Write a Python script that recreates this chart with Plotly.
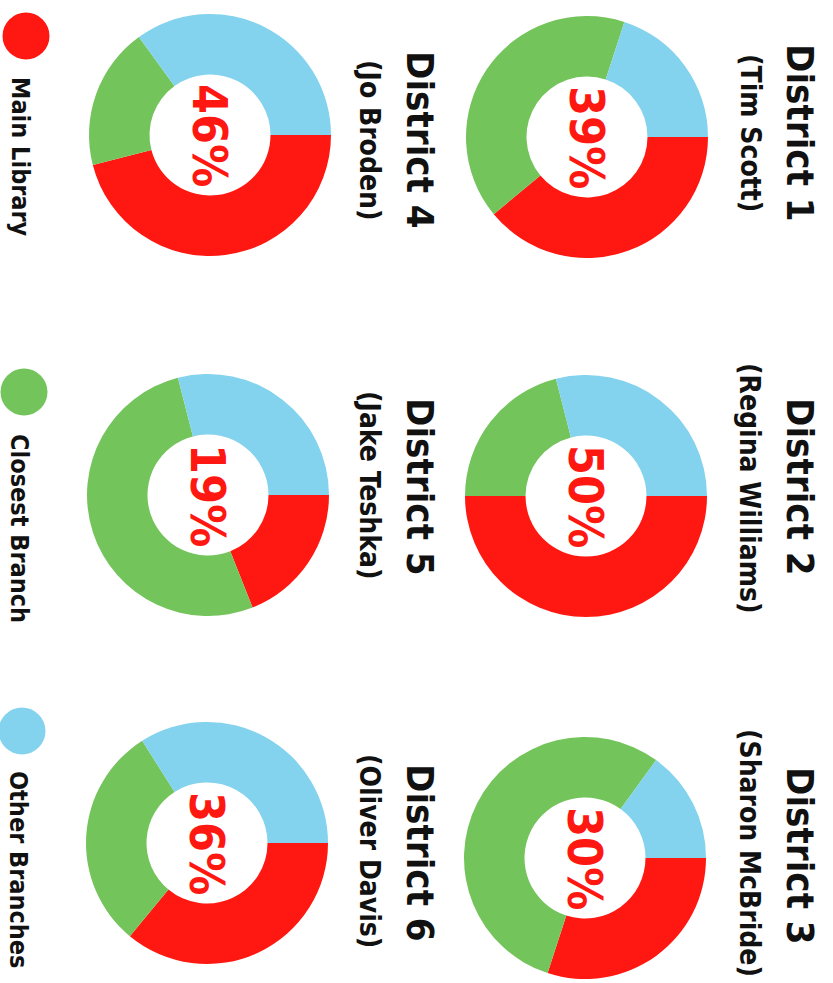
import plotly.graph_objects as go

# ---------------- data ----------------
districts = ["District 1", "District 2", "District 3", "District 4", "District 5", "District 6"]
representatives = ["(Tim Scott)", "(Regina Williams)", "(Sharon McBride)",
                   "(Jo Broden)", "(Jake Teshka)", "(Oliver Davis)"]
categories = ["Main Library", "Closest Branch", "Other Branches"]
main_library = [39, 50, 30, 46, 19, 36]
closest_branch = [41, 21, 55, 19, 52, 30]
other_branches = [20, 29, 15, 35, 29, 34]

# ---------------- styles / layout ----------------
colors = ["#FE1811", "#74C45C", "#83D2EE"]
W, H = 833, 983
FONT = "DejaVu Sans Condensed, DejaVu Sans, sans-serif"

# donut centres (pixels on the rotated page) and radius
centers = [(587, 137), (586, 496), (585, 858), (210, 135), (208, 495), (207, 843)]
R = 121
title_pos = [(800, 133), (800, 487), (800, 856), (420, 140), (420, 487), (420, 853)]
sub_pos = [(750, 133), (750, 488), (750, 853), (370, 140), (370, 485), (370, 851)]
legend_dot = [(26, 36), (24, 392), (22, 731)]
legend_txt = [(20, 157), (20, 528), (19, 870)]


def px(x):
    return x / W


def py(y):
    return 1 - y / H


fig = go.Figure()

annotations = []
for i, name in enumerate(districts):
    cx, cy = centers[i]
    vals = [main_library[i], closest_branch[i], other_branches[i]]
    fig.add_trace(go.Pie(
        labels=categories,
        values=vals,
        sort=False,
        direction="clockwise",
        rotation=90,
        hole=0.5,
        textinfo="none",
        marker=dict(colors=colors, line=dict(width=0)),
        domain=dict(x=[px(cx - R), px(cx + R)], y=[py(cy + R), py(cy - R)]),
        showlegend=False,
        name=name,
    ))
    annotations.append(dict(
        text=f"{main_library[i]}%", x=px(cx), y=py(cy), xref="paper", yref="paper",
        textangle=90, showarrow=False, xanchor="center", yanchor="middle",
        font=dict(family=FONT, size=48, color=colors[0], weight=700),
    ))
    tx, ty = title_pos[i]
    annotations.append(dict(
        text=name, x=px(tx), y=py(ty), xref="paper", yref="paper",
        textangle=90, showarrow=False, xanchor="center", yanchor="middle",
        font=dict(family=FONT, size=38, color="#111111", weight=700),
    ))
    sx, sy = sub_pos[i]
    annotations.append(dict(
        text=representatives[i], x=px(sx), y=py(sy), xref="paper", yref="paper",
        textangle=90, showarrow=False, xanchor="center", yanchor="middle",
        font=dict(family=FONT, size=28, color="#111111", weight=700),
    ))

# legend
fig.add_trace(go.Scatter(
    x=[p[0] for p in legend_dot], y=[p[1] for p in legend_dot],
    mode="markers", marker=dict(size=47, color=colors, line=dict(width=0)),
    xaxis="x", yaxis="y", showlegend=False, hoverinfo="skip",
))
for j, cat in enumerate(categories):
    lx, ly = legend_txt[j]
    annotations.append(dict(
        text=cat, x=px(lx), y=py(ly), xref="paper", yref="paper",
        textangle=90, showarrow=False, xanchor="center", yanchor="middle",
        font=dict(family=FONT, size=25, color="#111111", weight=700),
    ))

fig.update_layout(
    width=W, height=H,
    margin=dict(l=0, r=0, t=0, b=0),
    paper_bgcolor="white", plot_bgcolor="rgba(0,0,0,0)",
    xaxis=dict(range=[0, W], visible=False, domain=[0, 1], fixedrange=True),
    yaxis=dict(range=[H, 0], visible=False, domain=[0, 1], fixedrange=True),
    annotations=annotations,
)

fig.write_html("out.html", config={"displayModeBar": False},
               post_script="document.body.style.margin='0';")
